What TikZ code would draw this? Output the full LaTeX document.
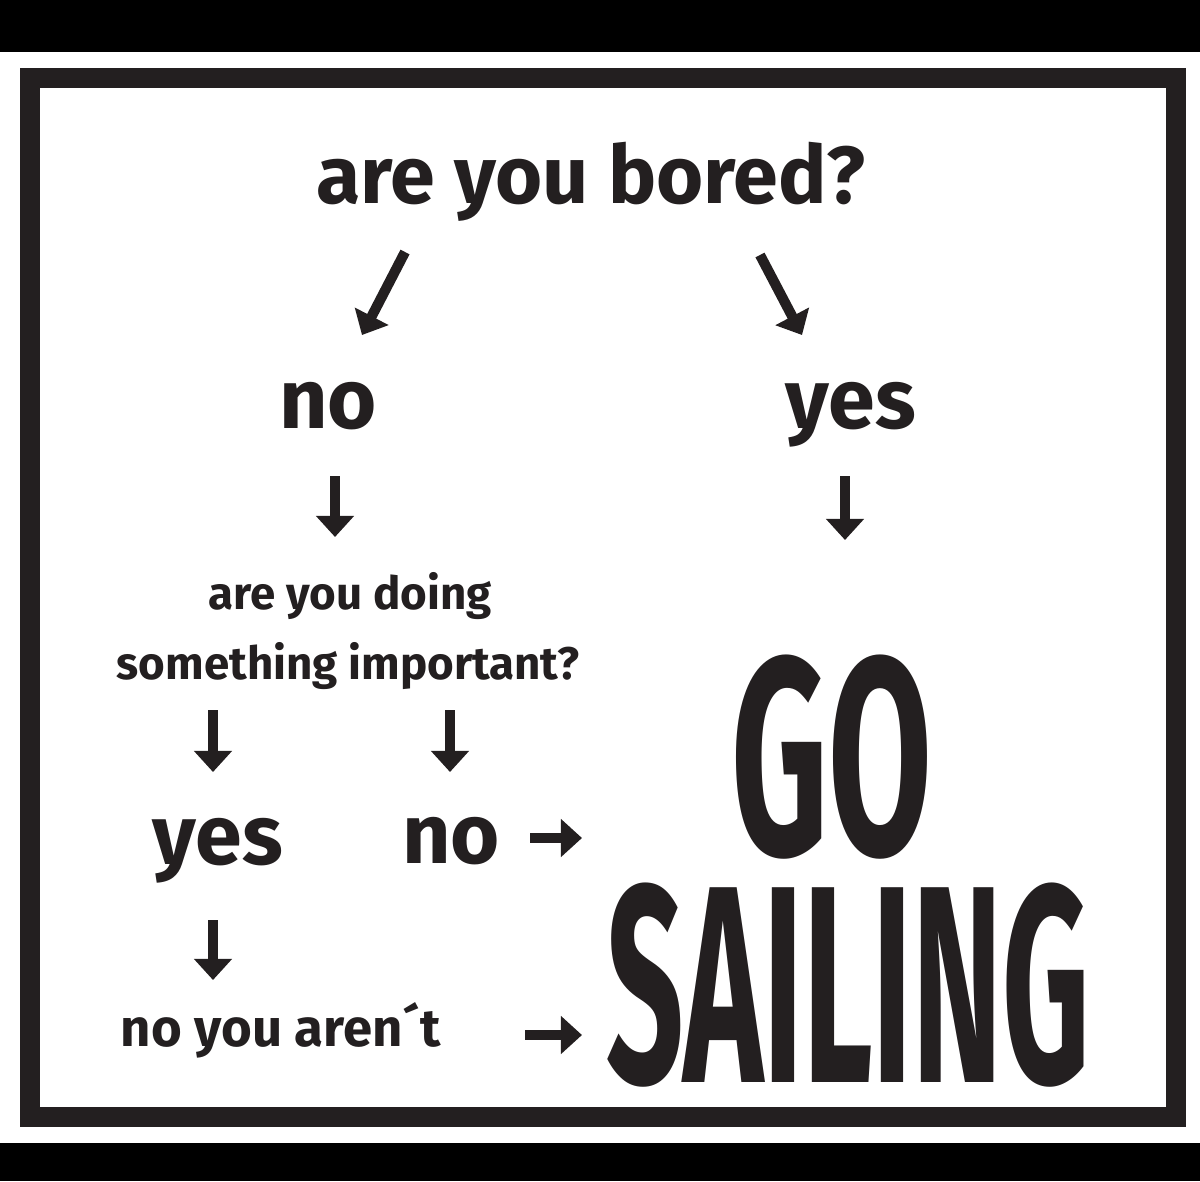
\documentclass[tikz,border=0pt]{standalone}
\usepackage{graphicx}
\usepackage{fontspec}
\setmainfont{Fira Sans}
\usetikzlibrary{arrows.meta,calc,positioning}

\definecolor{ink}{HTML}{231F20}

\tikzset{
	arr/.style =
	{
		draw		= ink,
		line width	= 5.8pt,
		-{Triangle[length=12pt,width=21pt]}
	},
	say/.style =
	{
		text		= ink,
		anchor		= base,
		inner sep	= 0pt,
		font		= \bfseries\fontsize{#1}{#1}\selectfont
	},
	big/.style =
	{
		say			= 160,
		text height	= 110pt,
		text depth	= 0pt
	}
}

\begin{document}
\begin{tikzpicture}[x=0.02cm, y=-0.02cm]
		%
		\useasboundingbox (0,0) rectangle (1200,1181);
		\fill[black] (0,0) rectangle (1200,52);
		\fill[black] (0,1143) rectangle (1200,1181);
		\draw[ink, line width=11.3pt] (30,78) rectangle (1176,1117);
		%
		\node[say=46] (bored)	at (591,203) {are you bored?};
		\node[say=48] (no1)		at (328,428) {no};
		\node[say=48] (yes1)	at (851,428) {yes};
		\node[say=26] (doing)	at (350,609) {are you doing};
		\node[say=26] (import)	at (348,679) {something important?};
		\node[say=48] (yes2)	at (218,864) {yes};
		\node[say=48] (no2)		at (451,863) {no};
		\node[say=30] (aren)	at (281,1046) {no you aren´t};
		\node[big] (go)			at (832,854) {\scalebox{0.535}[1]{GO}};
		\node[big] (sail)		at (848,1082) {\scalebox{0.483}[1]{SAILING}};
		%
		\coordinate (dl0) at (405,252);	\coordinate (dl1) at (362,335);
		\coordinate (dr0) at (760,255);	\coordinate (dr1) at (802,335);
		\coordinate (n0) at (335,476);	\coordinate (n1) at (335,537);
		\coordinate (y0) at (845,476);	\coordinate (y1) at (845,540);
		\coordinate (iy0) at (213,710);	\coordinate (iy1) at (213,772);
		\coordinate (in0) at (450,710);	\coordinate (in1) at (450,772);
		\coordinate (ry0) at (213,920);	\coordinate (ry1) at (213,980);
		\coordinate (rn0) at (530,838);	\coordinate (rn1) at (582,838);
		\coordinate (ra0) at (525,1035);	\coordinate (ra1) at (582,1035);
		%
		\draw[arr] (dl0) -- (dl1);
		\draw[arr] (dr0) -- (dr1);
		\draw[arr] (n0) -- (n1);
		\draw[arr] (y0) -- (y1);
		\draw[arr] (iy0) -- (iy1);
		\draw[arr] (in0) -- (in1);
		\draw[arr] (ry0) -- (ry1);
		\draw[arr] (rn0) -- (rn1);
		\draw[arr] (ra0) -- (ra1);
		%
\end{tikzpicture}
\end{document}
